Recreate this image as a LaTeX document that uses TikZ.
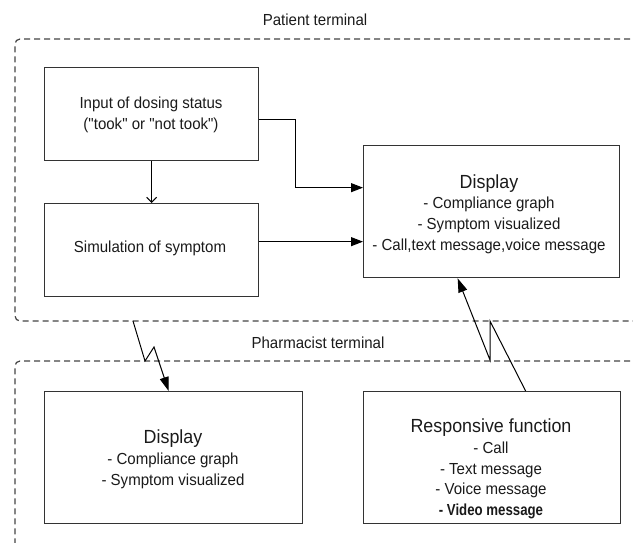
\documentclass[tikz,border=0pt]{standalone}
\usepackage{fontspec}
\setmainfont{Liberation Sans}[FakeStretch=0.94,Ligatures=TeXOff]
\usetikzlibrary{arrows.meta,calc}
\definecolor{boxgray}{HTML}{333333}
\definecolor{dashgray}{HTML}{444444}
\definecolor{txt}{HTML}{1A1A1A}
\begin{document}
\begin{tikzpicture}[x=1pt,y=-1pt,
  box/.style={draw=boxgray,line width=1.3pt,inner sep=0pt,anchor=north west},
  lbl/.style={text=txt,align=center,inner sep=0pt,font=\fontsize{16}{20.8}\selectfont},
  region/.style={draw=dashgray,line width=1.2pt,dash pattern=on 6pt off 4pt,rounded corners=5pt},
  arr/.style={draw=black,line width=1pt,-{Triangle[length=12pt,width=9pt]}},
  zarr/.style={draw=black,line width=1pt,-{Triangle[length=14pt,width=9pt]}},
  varr/.style={draw=black,line width=1pt,-{Straight Barb[length=5pt,width=10pt,line width=1pt]}}]
\useasboundingbox (0,0) rectangle (633,542);
% regions
\draw[region] (640,39) -- (15,39) -- (15,321) -- (640,321);
\draw[region] (640,361) -- (15,361) -- (15,560);
\node[lbl] (tpat) at (315,20) {Patient terminal};
\node[lbl] (tpha) at (318,343) {Pharmacist terminal};
% boxes
\node[box,minimum width=214pt,minimum height=93pt] (in) at (44,67) {};
\node[box,minimum width=214pt,minimum height=93pt] (sim) at (44,203) {};
\node[box,minimum width=256pt,minimum height=132pt] (disp) at (363,145) {};
\node[box,minimum width=258pt,minimum height=132pt] (pdisp) at (44,391) {};
\node[box,minimum width=257pt,minimum height=132pt] (resp) at (363,391) {};
% texts
\node[lbl] (tin) at (151,114.5) {Input of dosing status\\("took" or "not took")};
\node[lbl] (tsim) at (150,248) {Simulation of symptom};
\node[lbl] (tdisp) at (489,214) {{\fontsize{19}{21}\selectfont Display}\\- Compliance graph\\- Symptom visualized\\- Call,text message,voice message};
\node[lbl] (tpdisp) at (173,459.5) {{\fontsize{19}{21}\selectfont Display}\\- Compliance graph\\- Symptom visualized};
\node[lbl] (tresp) at (491,469) {{\fontsize{19}{21}\selectfont Responsive function}\\- Call\\- Text message\\- Voice message\\\scalebox{0.88}[1]{\bfseries - Video message}};
% connectors
\coordinate (dinA) at ([yshift=24pt]disp.west);
\coordinate (dinB) at ([yshift=-30pt]disp.west);
\draw[varr] (in.south) -- (sim.north);
\draw[arr] ([yshift=-5pt]in.east) -- ++(36,0) |- (dinA);
\draw[arr] (sim.east |- dinB) -- (dinB);
% lightning links
\coordinate (z1a) at (133,321);
\coordinate (z1b) at (145,361);
\coordinate (z1c) at (154,347);
\draw[zarr] (z1a) -- (z1b) -- (z1c) -- ([xshift=-5pt]pdisp.north);
\coordinate (z2a) at (490,321);
\coordinate (z2b) at (490,360);
\draw[zarr] ([xshift=33.5pt]resp.north) -- (z2a) -- (z2b) -- ([xshift=-34pt]disp.south);
\end{tikzpicture}
\end{document}
